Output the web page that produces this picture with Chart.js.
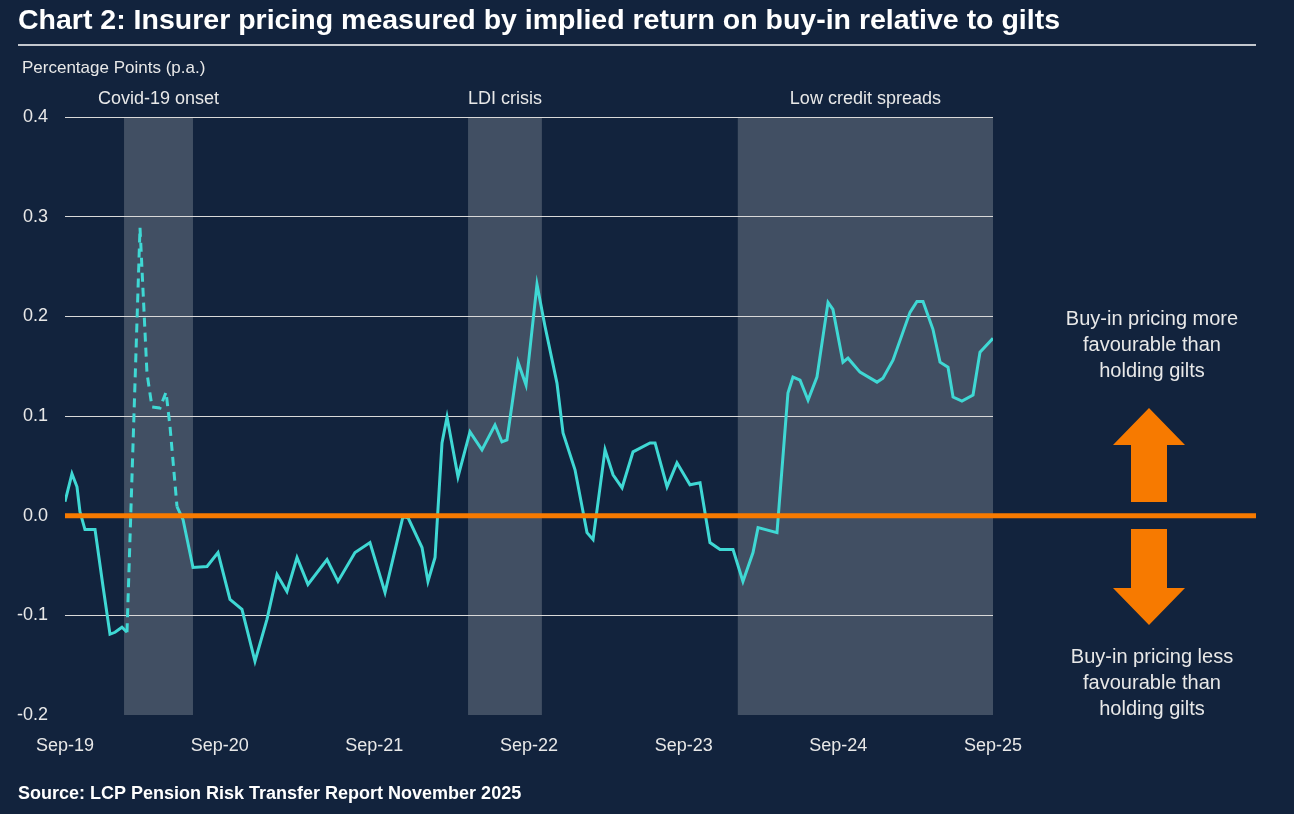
<!DOCTYPE html>
<html><head><meta charset="utf-8">
<script src="https://cdn.jsdelivr.net/npm/chart.js@4"></script>
<style>html,body{margin:0;padding:0;background:#12233d;}#wrap{width:1294px;height:814px;position:relative;}</style>
</head><body><div id="wrap"><canvas id="c" width="1294" height="814"></canvas></div>
<script>
// months since Sep-19
const months = [0,0.54,0.93,1.16,1.55,2.33,2.95,3.49,3.88,4.42,4.81,5.59,5.82,6.36,6.75,7.37,7.84,8.15,8.69,9.16,9.93,11.02,11.87,12.8,13.73,14.74,15.67,16.45,17.22,18.0,18.85,20.33,21.18,22.5,23.66,24.83,26.22,26.61,27.7,28.16,28.71,29.25,29.64,30.49,31.42,32.35,33.36,33.9,34.29,35.15,35.77,36.62,37.24,38.17,38.64,39.57,40.5,40.97,41.9,42.52,43.22,44.07,45.39,45.78,46.71,47.48,48.49,49.27,50.04,50.82,51.83,52.6,53.38,53.77,55.24,56.09,56.48,57.03,57.65,58.34,59.2,59.58,60.36,60.75,61.68,63.0,63.46,64.24,65.56,66.1,66.57,67.34,67.89,68.51,68.9,69.59,70.45,70.99,72];
const values = [0.014,0.042,0.029,0.004,-0.014,-0.014,-0.071,-0.119,-0.117,-0.112,-0.117,0.197,0.289,0.143,0.109,0.108,0.124,0.089,0.009,-0.004,-0.052,-0.051,-0.037,-0.084,-0.094,-0.146,-0.104,-0.059,-0.076,-0.042,-0.069,-0.044,-0.066,-0.037,-0.027,-0.077,-0.001,-0.002,-0.032,-0.066,-0.042,0.073,0.099,0.039,0.084,0.066,0.091,0.074,0.076,0.154,0.131,0.232,0.19,0.133,0.083,0.046,-0.017,-0.024,0.066,0.041,0.028,0.064,0.073,0.073,0.029,0.053,0.031,0.033,-0.027,-0.034,-0.034,-0.066,-0.037,-0.012,-0.017,0.123,0.139,0.136,0.116,0.139,0.214,0.207,0.154,0.158,0.144,0.134,0.138,0.156,0.204,0.215,0.215,0.187,0.154,0.149,0.119,0.115,0.121,0.164,0.178];
const dashedRange = [4.81, 8.69];
const xTickLabels = {0:'Sep-19',12:'Sep-20',24:'Sep-21',36:'Sep-22',48:'Sep-23',60:'Sep-24',72:'Sep-25'};
const bands = [{from:4.58,to:9.93,label:'Covid-19 onset'},{from:31.27,to:37.0,label:'LDI crisis'},{from:52.2,to:72,label:'Low credit spreads'}];

const txt = '#e8e8e8', orange = '#f77a00';
const deco = {
  id:'deco',
  beforeDraw(ch){
    const c=ch.ctx, xs=ch.scales.x, ys=ch.scales.y, a=ch.chartArea;
    c.save();
    c.fillStyle='#12233d'; c.fillRect(0,0,ch.width,ch.height);
    c.font='18px "Liberation Sans", Arial'; c.textAlign='center'; c.textBaseline='middle';
    bands.forEach(b=>{
      const x0=xs.getPixelForValue(b.from), x1=xs.getPixelForValue(b.to);
      c.fillStyle='#414f63'; c.fillRect(x0,a.top,x1-x0,a.bottom-a.top);
      c.fillStyle=txt; c.fillText(b.label,(x0+x1)/2,99);
    });
    c.fillStyle='#fff'; c.font='bold 28.5px "Liberation Sans", Arial'; c.textAlign='left';
    c.fillText('Chart 2: Insurer pricing measured by implied return on buy-in relative to gilts',18,21);
    c.strokeStyle='#fff'; c.lineWidth=1.5; c.beginPath(); c.moveTo(18,45); c.lineTo(1256,45); c.stroke();
    c.fillStyle=txt; c.font='17px "Liberation Sans", Arial';
    c.fillText('Percentage Points (p.a.)',22,68);
    c.fillStyle='#fff'; c.font='bold 18px "Liberation Sans", Arial';
    c.fillText('Source: LCP Pension Risk Transfer Report November 2025',18,794);
    c.restore();
  },
  afterDatasetsDraw(ch){
    const c=ch.ctx, ys=ch.scales.y, a=ch.chartArea;
    c.save();
    const y0=ys.getPixelForValue(0);
    c.strokeStyle=orange; c.lineWidth=5; c.beginPath(); c.moveTo(a.left,y0); c.lineTo(1256,y0); c.stroke();
    c.fillStyle=orange;
    c.beginPath(); c.moveTo(1149,408); c.lineTo(1185,445); c.lineTo(1167,445); c.lineTo(1167,502); c.lineTo(1131,502); c.lineTo(1131,445); c.lineTo(1113,445); c.closePath(); c.fill();
    c.beginPath(); c.moveTo(1149,625); c.lineTo(1185,588); c.lineTo(1167,588); c.lineTo(1167,529); c.lineTo(1131,529); c.lineTo(1131,588); c.lineTo(1113,588); c.closePath(); c.fill();
    c.fillStyle=txt; c.font='20px "Liberation Sans", Arial'; c.textAlign='center'; c.textBaseline='middle';
    ['Buy-in pricing more','favourable than','holding gilts'].forEach((t,i)=>c.fillText(t,1152,319+i*26));
    ['Buy-in pricing less','favourable than','holding gilts'].forEach((t,i)=>c.fillText(t,1152,657+i*26));
    c.restore();
  }
};
new Chart(document.getElementById('c'),{
  type:'line',
  data:{datasets:[{data:months.map((m,i)=>({x:m,y:values[i]})),borderColor:'#3fd8d4',borderWidth:3,pointRadius:0,tension:0,
    segment:{borderDash:ctx=>(ctx.p0.parsed.x>=dashedRange[0]&&ctx.p1.parsed.x<=dashedRange[1])?[9,6]:undefined}}]},
  options:{responsive:false,animation:false,
    layout:{padding:{top:117,right:301,left:0,bottom:0}},
    plugins:{legend:{display:false},tooltip:{enabled:false}},
    scales:{
      x:{type:'linear',min:0,max:72,afterFit(s){s.height=99;},
        grid:{display:false},border:{display:false},
        ticks:{stepSize:12,autoSkip:false,maxRotation:0,padding:12,color:txt,font:{size:18,family:'"Liberation Sans", Arial'},callback:v=>xTickLabels[v]||''}},
      y:{min:-0.2,max:0.4,afterFit(s){s.width=65;},
        grid:{color:c=>Math.abs(c.tick.value)<1e-9||c.tick.value<-0.15?'rgba(0,0,0,0)':'#d9d9d9',lineWidth:1,drawTicks:false},border:{display:false},
        ticks:{stepSize:0.1,padding:17,color:txt,font:{size:18,family:'"Liberation Sans", Arial'},callback:v=>v.toFixed(1)}}
    }}
  ,plugins:[deco]});
</script></body></html>
